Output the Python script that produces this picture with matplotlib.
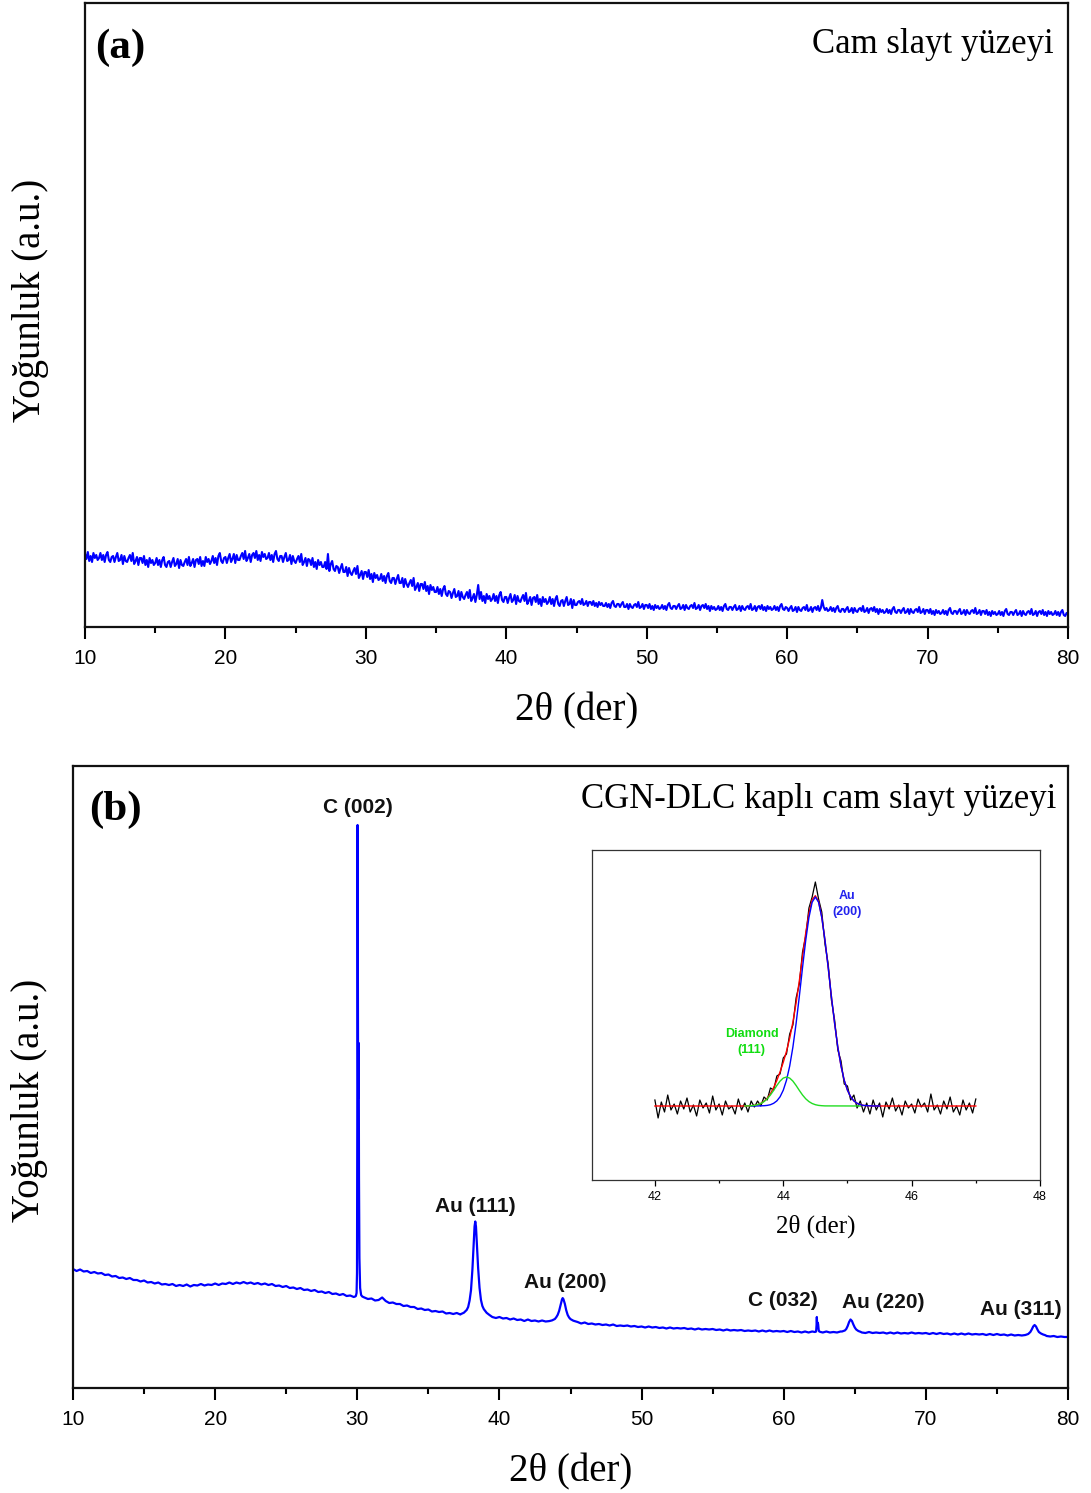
import numpy as np
import matplotlib
matplotlib.use("Agg")
import matplotlib.pyplot as plt
from matplotlib.ticker import MultipleLocator

SERIF = ["Liberation Serif", "DejaVu Serif"]
SANS = ["Liberation Sans", "DejaVu Sans"]

# ---------------- Panel (a): glass slide (2theta 10..80, step 0.1) ----------------
a_start, a_stop, a_count = 10, 80, 701
a_intensity = [
    73, 68, 75, 66, 71, 65, 74, 69, 72, 67,   # 10
    69, 74, 67, 72, 65, 72, 75, 67, 65, 70,   # 11
    71, 65, 70, 74, 66, 67, 72, 63, 71, 66,   # 12
    65, 69, 72, 66, 74, 63, 66, 70, 62, 69,   # 13
    69, 64, 71, 62, 67, 60, 69, 64, 67, 62,   # 14
    64, 69, 62, 67, 60, 67, 70, 62, 60, 65,   # 15
    66, 60, 65, 69, 61, 63, 68, 59, 67, 62,   # 16
    61, 65, 68, 62, 70, 61, 64, 68, 60, 67,   # 17
    68, 63, 70, 61, 66, 61, 70, 65, 68, 63,   # 18
    66, 71, 64, 69, 62, 71, 74, 66, 64, 69,   # 19
    70, 64, 69, 73, 65, 68, 73, 64, 72, 67,   # 20
    67, 71, 74, 68, 76, 66, 69, 73, 65, 72,   # 21
    74, 69, 76, 67, 72, 66, 75, 70, 73, 68,   # 22
    69, 74, 67, 72, 65, 73, 76, 68, 66, 71,   # 23
    71, 65, 70, 74, 66, 67, 72, 63, 71, 66,   # 24
    64, 68, 71, 65, 73, 62, 65, 69, 61, 68,   # 25
    67, 62, 69, 60, 65, 58, 67, 62, 65, 60,   # 26
    60, 65, 58, 73, 56, 63, 66, 58, 56, 61,   # 27
    60, 54, 59, 63, 55, 55, 60, 51, 59, 54,   # 28
    52, 56, 59, 53, 61, 49, 52, 56, 48, 55,   # 29
    55, 50, 57, 48, 53, 45, 54, 49, 52, 47,   # 30
    48, 53, 46, 51, 44, 51, 54, 46, 44, 49,   # 31
    49, 43, 48, 52, 44, 44, 49, 40, 48, 43,   # 32
    40, 44, 47, 41, 49, 37, 40, 44, 36, 43,   # 33
    43, 38, 45, 36, 41, 33, 42, 37, 40, 35,   # 34
    35, 40, 33, 38, 31, 38, 41, 33, 31, 36,   # 35
    35, 29, 34, 38, 30, 31, 36, 27, 35, 30,   # 36
    28, 32, 35, 29, 37, 26, 29, 33, 25, 32,   # 37
    42, 28, 35, 26, 31, 24, 33, 28, 31, 26,   # 38
    28, 33, 26, 31, 24, 32, 35, 27, 25, 30,   # 39
    30, 24, 29, 33, 25, 27, 32, 23, 31, 26,   # 40
    25, 29, 32, 26, 34, 23, 26, 30, 22, 29,   # 41
    30, 25, 32, 23, 28, 21, 30, 25, 28, 23,   # 42
    25, 30, 23, 28, 21, 28, 31, 23, 21, 26,   # 43
    27, 21, 26, 30, 22, 23, 28, 19, 27, 22,   # 44
    22, 25, 26, 23, 28, 22, 23, 26, 21, 25,   # 45
    25, 22, 26, 21, 24, 20, 25, 22, 24, 21,   # 46
    21, 24, 20, 23, 19, 24, 26, 21, 20, 23,   # 47
    23, 20, 23, 25, 20, 20, 23, 18, 23, 20,   # 48
    19, 22, 23, 20, 25, 19, 20, 23, 18, 22,   # 49
    22, 19, 23, 18, 21, 17, 22, 19, 21, 18,   # 50
    19, 22, 18, 21, 17, 22, 24, 19, 18, 21,   # 51
    21, 18, 21, 23, 18, 19, 22, 17, 22, 19,   # 52
    18, 21, 22, 19, 24, 18, 19, 22, 17, 21,   # 53
    22, 19, 23, 18, 21, 16, 21, 18, 20, 17,   # 54
    18, 21, 17, 20, 16, 21, 23, 18, 17, 20,   # 55
    20, 17, 20, 22, 17, 18, 21, 16, 21, 18,   # 56
    17, 20, 21, 18, 23, 17, 18, 21, 16, 20,   # 57
    21, 18, 22, 17, 20, 16, 21, 18, 20, 17,   # 58
    18, 21, 17, 20, 16, 21, 23, 18, 17, 20,   # 59
    19, 16, 19, 21, 16, 17, 20, 15, 20, 17,   # 60
    16, 19, 20, 17, 22, 16, 17, 20, 15, 19,   # 61
    20, 17, 21, 16, 19, 27, 20, 17, 19, 16,   # 62
    17, 20, 16, 19, 15, 19, 21, 16, 15, 18,   # 63
    18, 15, 18, 20, 15, 16, 19, 14, 19, 16,   # 64
    15, 18, 19, 16, 21, 15, 16, 19, 14, 18,   # 65
    19, 16, 20, 15, 18, 13, 18, 15, 17, 14,   # 66
    15, 18, 14, 17, 13, 18, 20, 15, 14, 17,   # 67
    17, 14, 17, 19, 14, 15, 18, 13, 18, 15,   # 68
    14, 17, 18, 15, 20, 14, 15, 18, 13, 17,   # 69
    17, 14, 18, 13, 16, 12, 17, 14, 16, 13,   # 70
    14, 17, 13, 16, 12, 17, 19, 14, 13, 16,   # 71
    16, 13, 16, 18, 13, 14, 17, 12, 17, 14,   # 72
    13, 16, 17, 14, 19, 13, 14, 17, 12, 16,   # 73
    16, 13, 17, 12, 15, 11, 16, 13, 15, 12,   # 74
    13, 16, 12, 15, 11, 16, 18, 13, 12, 15,   # 75
    15, 12, 15, 17, 12, 13, 16, 11, 16, 13,   # 76
    12, 15, 16, 13, 18, 12, 13, 16, 11, 15,   # 77
    16, 13, 17, 12, 15, 11, 16, 13, 15, 12,   # 78
    13, 16, 12, 15, 11, 15, 17, 12, 11, 14,   # 79
    14,                                       # 80
]

# ---------------- Panel (b): CGN-DLC coated slide ----------------
b_start, b_stop, b_count = 10, 80, 281
b_background = [
    119, 117, 118.5, 116.5,   # 10
    117, 115, 116, 114.5,     # 11
    115, 113, 113.5, 111.5,   # 12
    112, 110, 110.5, 109,     # 13
    110, 108, 108, 106.5,     # 14
    107.5, 105.5, 106, 104.5, # 15
    105.5, 103.5, 104, 103,   # 16
    104, 102, 103, 102,       # 17
    103.5, 101.5, 103, 102.5, # 18
    104, 102.5, 103.5, 103,   # 19
    104.5, 103, 104.5, 104,   # 20
    105.5, 104, 105.5, 104.5, # 21
    106, 104.5, 105.5, 104,   # 22
    105, 103.5, 104.5, 103,   # 23
    104, 102, 102.5, 101,     # 24
    102, 100, 100.5, 99,      # 25
    100, 98, 98.5, 97,        # 26
    98, 96, 96.5, 95,         # 27
    96, 94, 94.5, 93,         # 28
    94, 92, 92.5, 91,         # 29
    91, 90, 90.5, 89,         # 30
    89.5, 87.5, 88, 90.5,     # 31
    87, 85, 85.5, 84,         # 32
    84, 82, 82.5, 81,         # 33
    81, 79, 79.5, 78,         # 34
    78.5, 76.5, 77, 76,       # 35
    76.5, 74.5, 75, 74,       # 36
    75, 73.5, 74, 73.5,       # 37
    73, 72, 72, 71.5,         # 38
    72, 71, 71, 70,           # 39
    71, 69.5, 70, 68.5,       # 40
    69.5, 68, 68.5, 67,       # 41
    68.5, 67, 67.5, 66.5,     # 42
    67.5, 66.5, 67, 66,       # 43
    66.5, 65.5, 66, 65.5,     # 44
    66, 65, 65.5, 64.5,       # 45
    65.5, 64, 64.5, 63.5,     # 46
    64, 63, 63.5, 62.5,       # 47
    63.5, 62, 62.5, 62,       # 48
    62.5, 61.5, 62, 61,       # 49
    61.5, 60.5, 61.5, 60.5,   # 50
    61, 60, 60.5, 59.5,       # 51
    60.5, 59.5, 60, 59.5,     # 52
    60, 59, 59.5, 58.5,       # 53
    59.5, 58.5, 59, 58.5,     # 54
    59, 58, 58.5, 57.5,       # 55
    58.5, 57.5, 58, 57.5,     # 56
    58, 57, 57.5, 57,         # 57
    57.5, 56.5, 57.5, 56.5,   # 58
    57.5, 56.5, 57, 56.5,     # 59
    57, 56, 57, 56,           # 60
    56.5, 55.5, 56.5, 55.5,   # 61
    56.5, 55.5, 56.5, 55.5,   # 62
    56.5, 55.5, 56, 55.5,     # 63
    56.5, 55.5, 56, 55.5,     # 64
    56, 55, 55.5, 55,         # 65
    56, 55, 55.5, 55,         # 66
    55.5, 54.5, 55.5, 54.5,   # 67
    55.5, 54.5, 55, 54.5,     # 68
    55.5, 54.5, 55, 54.5,     # 69
    55, 54, 55, 54,           # 70
    55, 54, 54.5, 53.5,       # 71
    54.5, 53.5, 54.5, 53.5,   # 72
    54.5, 53.5, 54, 53.5,     # 73
    54, 53, 54, 53,           # 74
    54, 53, 53.5, 52.5,       # 75
    53.5, 52.5, 53, 52.5,     # 76
    53, 52, 52.5, 52,         # 77
    52.5, 51.5, 52, 51.5,     # 78
    52, 51, 51.5, 51,         # 79
    51,                       # 80
]

c002_x = [29.85, 29.90, 29.95, 29.98, 30.00, 30.02, 30.04, 30.06, 30.08, 30.10, 30.12, 30.15, 30.20, 30.27, 30.35]
c002_y = [91.5, 92, 95, 115, 260, 563, 420, 290, 300, 345, 210, 130, 100, 93, 91.5]

au111_x = [37.3, 37.5, 37.7, 37.8, 37.9, 38.0, 38.1, 38.2, 38.25, 38.3, 38.35, 38.4, 38.5, 38.6, 38.7, 38.8, 38.9, 39.1, 39.3]
au111_y = [74, 75.3, 78.1, 81, 87.4, 97.8, 118.7, 148.6, 161.6, 166.5, 161.5, 148.4, 120.3, 100.2, 88.1, 82, 78.9, 75.2, 73]

au200_x = [43.5, 43.7, 43.9, 44.0, 44.1, 44.2, 44.3, 44.4, 44.45, 44.5, 44.6, 44.7, 44.8, 44.9, 45.0, 45.2, 45.5]
au200_y = [66.9, 67.6, 69.0, 70.8, 73.2, 77.1, 83, 88.5, 89.9, 88.9, 84.3, 77.7, 73.1, 70.5, 68.9, 67.3, 66]

c032_x = [62.2, 62.28, 62.31, 62.33, 62.35, 62.38, 62.42, 62.46, 62.5, 62.6]
c032_y = [56, 56.5, 63, 71, 64, 65.5, 64, 58, 56.5, 56]

au220_x = [64.1, 64.3, 64.4, 64.5, 64.6, 64.7, 64.8, 64.9, 65.0, 65.1, 65.25, 65.4]
au220_y = [56.5, 57.5, 59, 62, 66, 68.5, 67, 63.5, 60.5, 58.5, 57, 56.2]

au311_x = [77.0, 77.2, 77.35, 77.45, 77.55, 77.65, 77.75, 77.85, 77.95, 78.1, 78.25, 78.4]
au311_y = [53, 54, 56, 58.5, 61.5, 63, 61.5, 58.5, 56, 54.5, 53.5, 52.8]

peak_labels = ["C (002)", "Au (111)", "Au (200)", "C (032)", "Au (220)", "Au (311)"]
peak_label_x = [30.03, 38.3, 44.6, 59.97, 67.0, 76.7]
peak_label_y = [575, 176, 100, 82, 80, 73]

# ---------------- Inset: Au(200) / Diamond(111) fit ----------------
inset_start, inset_stop, inset_count = 42.0, 47.0, 101
inset_measured = [
    80, 62, 78, 68, 85, 70, 76, 66, 79, 71,     # 42.00-42.45
    82, 68, 75, 64, 80, 72, 77, 67, 84, 70,     # 42.50-42.95
    76, 65, 79, 71, 74, 66, 81, 70, 77, 68,     # 43.00-43.45
    79, 73, 79, 74, 83, 80, 92, 90, 104, 106,   # 43.50-43.95
    122, 126, 146, 155, 182, 196, 228, 244, 272, 283,  # 44.00-44.45
    298, 281, 268, 236, 216, 180, 160, 130, 119, 96,   # 44.50-44.95
    94, 80, 85, 72, 79, 68, 77, 66, 80, 70,     # 45.00-45.45
    77, 63, 78, 71, 82, 69, 75, 65, 79, 72,     # 45.50-45.95
    76, 67, 81, 73, 77, 68, 86, 70, 75, 66,     # 46.00-46.45
    79, 71, 83, 68, 74, 65, 80, 70, 77, 67,     # 46.50-46.95
    81,                                         # 47.00
]

fit_x = [42.0, 43.3, 43.35, 43.4, 43.45, 43.5, 43.55, 43.6, 43.65, 43.7, 43.75, 43.8, 43.85, 43.9, 43.95,
         44.0, 44.05, 44.1, 44.15, 44.2, 44.25, 44.3, 44.35, 44.4, 44.45, 44.5, 44.55, 44.6, 44.65, 44.7,
         44.75, 44.8, 44.85, 44.9, 44.95, 45.0, 45.05, 45.1, 45.15, 45.2, 45.25, 45.3, 45.35, 45.4, 47.0]
fit_total = [74, 74, 74, 74.05, 74.1, 74.3, 74.6, 75.35, 76.6, 78.7, 81.8, 86.3, 92.3, 99.6, 108.1,
             117.7, 128.7, 141.8, 157.8, 177.1, 199.1, 223.4, 246.9, 266.9, 280.3, 284.3, 278.4, 262.8, 239.8, 212.4,
             183.5, 156.6, 132.9, 113.9, 99.7, 89.8, 83.2, 79.1, 76.7, 75.3, 74.6, 74.3, 74.1, 74.0, 74]

au_comp_x = [43.5, 43.6, 43.7, 43.75, 43.8, 43.85, 43.9, 43.95, 44.0, 44.05, 44.1, 44.15, 44.2, 44.25, 44.3,
             44.35, 44.4, 44.45, 44.5, 44.55, 44.6, 44.65, 44.7, 44.75, 44.8, 44.85, 44.9, 44.95, 45.0, 45.05,
             45.1, 45.15, 45.2, 45.25, 45.3, 45.4, 45.5]
au_comp_y = [74.0, 74.05, 74.3, 74.6, 75.3, 76.7, 79.1, 83.2, 89.8, 99.7, 113.9, 132.9, 156.6, 183.5, 212.4,
             239.7, 262.5, 277.8, 283, 277.8, 262.5, 239.7, 212.4, 183.5, 156.6, 132.9, 113.9, 99.7, 89.8, 83.2,
             79.1, 76.7, 75.3, 74.6, 74.3, 74.05, 74.0]

dia_comp_x = [43.4, 43.45, 43.5, 43.55, 43.6, 43.65, 43.7, 43.75, 43.8, 43.85, 43.9, 43.95, 44.0, 44.05,
              44.1, 44.15, 44.2, 44.25, 44.3, 44.35, 44.4, 44.45, 44.5, 44.55, 44.6, 44.65, 45.2]
dia_comp_y = [74.05, 74.1, 74.3, 74.6, 75.3, 76.5, 78.4, 81.2, 85.0, 89.6, 94.5, 98.9, 101.9, 103,
              101.9, 98.9, 94.5, 89.6, 85.0, 81.2, 78.4, 76.5, 75.3, 74.6, 74.3, 74.1, 74.0]

# ---------------- assemble ----------------
a_x = np.linspace(a_start, a_stop, a_count)
a_y = np.array(a_intensity, dtype=float)

b_grid = np.linspace(b_start, b_stop, b_count)
b_bg = np.array(b_background, dtype=float)
peaks = [(c002_x, c002_y), (au111_x, au111_y), (au200_x, au200_y),
         (c032_x, c032_y), (au220_x, au220_y), (au311_x, au311_y)]
keep = np.ones_like(b_grid, dtype=bool)
for px, _ in peaks:
    keep &= ~((b_grid >= px[0]) & (b_grid <= px[-1]))
b_x = np.concatenate([b_grid[keep]] + [np.array(p[0]) for p in peaks])
b_y = np.concatenate([b_bg[keep]] + [np.array(p[1]) for p in peaks])
order = np.argsort(b_x)
b_x, b_y = b_x[order], b_y[order]

in_x = np.linspace(inset_start, inset_stop, inset_count)
in_y = np.array(inset_measured, dtype=float)

# ---------------- figure ----------------
W, H = 1091, 1493
fig = plt.figure(figsize=(W / 100, H / 100), dpi=100)


def fig_rect(l, t, r, b):
    return [l / W, 1 - b / H, (r - l) / W, (b - t) / H]


def style_main(ax):
    ax.set_xlim(10, 80)
    ax.xaxis.set_major_locator(MultipleLocator(10))
    ax.xaxis.set_minor_locator(MultipleLocator(5))
    ax.tick_params(axis="x", which="major", direction="out", length=8.5, width=1.5,
                   pad=7, labelsize=15, colors="black")
    ax.tick_params(axis="x", which="minor", direction="out", length=4.3, width=1.5)
    ax.tick_params(axis="y", left=False, labelleft=False)
    ax.set_yticks([])
    for lab in ax.get_xticklabels():
        lab.set_family(SANS)
    for s in ax.spines.values():
        s.set_linewidth(1.6)
        s.set_color("#111111")
    ax.set_xlabel("2θ (der)", family=SERIF, fontsize=28, labelpad=18)


# panel (a)
axa = fig.add_axes(fig_rect(85, 3, 1068, 627))
axa.plot(a_x, a_y, color="#0000ff", lw=1.5)
axa.set_ylim(0, 624)
style_main(axa)
axa.set_ylabel("Yoğunluk (a.u.)", family=SERIF, fontsize=28)
axa.yaxis.set_label_coords(-0.037, 0.524)
axa.text(0.0102, 0.912, "(a)", transform=axa.transAxes, family=SERIF,
         fontweight="bold", fontsize=31, ha="left", va="baseline")
axa.text(0.9857, 0.920, "Cam slayt yüzeyi", transform=axa.transAxes, family=SERIF,
         fontsize=25, ha="right", va="baseline")

# panel (b)
axb = fig.add_axes(fig_rect(73, 766, 1068, 1388))
axb.plot(b_x, b_y, color="#0000ff", lw=1.6)
axb.set_ylim(0, 622)
style_main(axb)
axb.set_ylabel("Yoğunluk (a.u.)", family=SERIF, fontsize=28)
axb.yaxis.set_label_coords(-0.025, 0.463)
axb.text(0.016, 0.913, "(b)", transform=axb.transAxes, family=SERIF,
         fontweight="bold", fontsize=31, ha="left", va="baseline")
axb.text(0.988, 0.9325, "CGN-DLC kaplı cam slayt yüzeyi", transform=axb.transAxes,
         family=SERIF, fontsize=25, ha="right", va="baseline")
for lab, lx, ly in zip(peak_labels, peak_label_x, peak_label_y):
    axb.text(lx, ly, lab, family=SANS, fontweight="bold", fontsize=15,
             ha="center", va="baseline", color="#111111")

# inset
axi = fig.add_axes(fig_rect(592, 850, 1040, 1180))
axi.plot(in_x, in_y, color="black", lw=0.9)
axi.plot(fit_x, fit_total, color="#ff0000", lw=1.0)
axi.plot(au_comp_x, au_comp_y, color="#0000ff", lw=1.0)
axi.plot(dia_comp_x, dia_comp_y, color="#22dd22", lw=1.0)
axi.set_xlim(41.02, 48.0)
axi.set_ylim(0, 330)
axi.set_yticks([])
axi.xaxis.set_major_locator(MultipleLocator(2))
axi.xaxis.set_minor_locator(MultipleLocator(1))
axi.set_xticks([42, 44, 46, 48])
axi.tick_params(axis="x", which="major", direction="out", length=4, width=0.9,
                pad=4, labelsize=9)
axi.tick_params(axis="x", which="minor", direction="out", length=2.5, width=0.9)
for lab in axi.get_xticklabels():
    lab.set_family(SANS)
for s in axi.spines.values():
    s.set_linewidth(0.9)
    s.set_color("#333333")
axi.set_xlabel("2θ (der)", family=SERIF, fontsize=18, labelpad=8)
axi.text(44.99, 276, "Au\n(200)", family=SANS, fontweight="bold", fontsize=9,
         color="#2222ee", ha="center", va="center", linespacing=1.4)
axi.text(43.51, 138, "Diamond\n(111)", family=SANS, fontweight="bold", fontsize=9,
         color="#11dd11", ha="center", va="center", linespacing=1.4)

fig.savefig("out.png", dpi=100)
